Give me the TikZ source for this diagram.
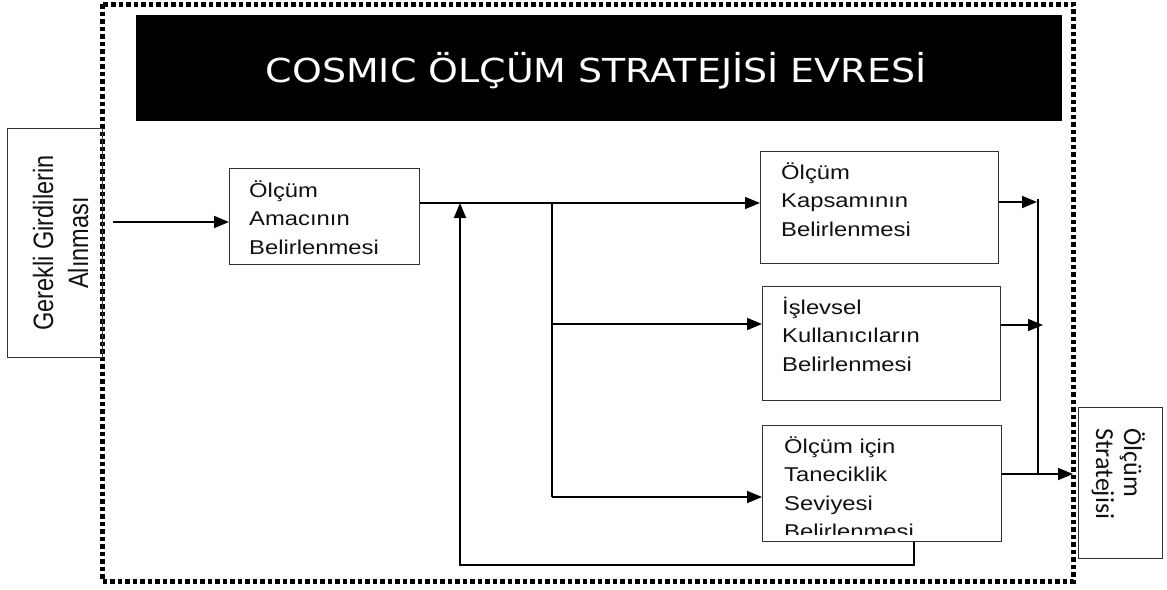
\documentclass[tikz,border=0pt]{standalone}
\usepackage{fontspec}
\setmainfont{Liberation Sans}
\newfontfamily\boxfont[FakeStretch=1.19]{Liberation Sans}
\newfontfamily\sidefont[FakeStretch=0.84]{Liberation Sans}
\newfontfamily\titlefont[FakeStretch=1.15]{DejaVu Sans}
\newfontfamily\outfont{Carlito}
\usetikzlibrary{arrows.meta,calc}
\definecolor{boxgray}{HTML}{333333}
\definecolor{inkblack}{HTML}{111111}

\begin{document}
\begin{tikzpicture}[x=1pt,y=-1pt,
  box/.style={draw=boxgray,line width=1.3pt,inner sep=0pt,anchor=north west},
  boxtext/.style={anchor=base west,inner sep=0pt,text=inkblack,
    font=\boxfont\fontsize{20}{28.5}\selectfont},
  conn/.style={line width=1.6pt},
  arr/.style={conn,-{Triangle[length=15pt,width=12pt]}},
  frame/.style={line width=5pt,dash pattern=on 4.5pt off 3pt},
]
\useasboundingbox (0,0) rectangle (1167,589);

% phase frame and title bar
\draw[frame] (102,4) rectangle (1073,581);
\node[fill=black,minimum width=926pt,minimum height=106pt,inner sep=0pt,
      anchor=north west] (bar) at (136,15) {};
\node[anchor=base,inner sep=0pt,text=white,
      font=\titlefont\fontsize{33}{40}\selectfont] (title) at (596,82)
  {COSMIC ÖLÇÜM STRATEJİSİ EVRESİ};

% input box (vertical text)
\node[box,minimum width=95pt,minimum height=229pt] (inp) at (7,128) {};
\node[anchor=base,inner sep=0pt,rotate=90,text=inkblack,
      font=\sidefont\fontsize{28}{35}\selectfont] (inptext) at (53,243)
  {\begin{tabular}[t]{@{}c@{}}Gerekli Girdilerin\\Alınması\end{tabular}};

% process boxes
\node[box,minimum width=190pt,minimum height=96pt] (b1) at (229,168) {};
\node[boxtext] (t1) at ($(b1.north west)+(20,29)$)
  {\begin{tabular}[t]{@{}l@{}}Ölçüm\\Amacının\\Belirlenmesi\end{tabular}};

\node[box,minimum width=238pt,minimum height=112pt] (b2) at (760,151) {};
\node[boxtext] (t2) at ($(b2.north west)+(21,28)$)
  {\begin{tabular}[t]{@{}l@{}}Ölçüm\\Kapsamının\\Belirlenmesi\end{tabular}};

\node[box,minimum width=238pt,minimum height=114pt] (b3) at (762,286) {};
\node[boxtext] (t3) at ($(b3.north west)+(20,28)$)
  {\begin{tabular}[t]{@{}l@{}}İşlevsel\\Kullanıcıların\\Belirlenmesi\end{tabular}};

\node[box,minimum width=239pt,minimum height=116pt] (b4) at (762,425) {};
\begin{scope}
  \clip (b4.north west) rectangle ($(b4.south east)+(0,-8)$);
  \node[boxtext] (t4) at ($(b4.north west)+(22,28)$)
    {\begin{tabular}[t]{@{}l@{}}Ölçüm için\\Taneciklik\\Seviyesi\\Belirlenmesi\end{tabular}};
\end{scope}

% output box (vertical text)
\node[box,minimum width=84pt,minimum height=151pt] (out) at (1078,407) {};
\node[anchor=base west,inner sep=0pt,rotate=-90,text=inkblack,
      font=\outfont\fontsize{26}{28}\selectfont] (outtext) at (1124,428)
  {\begin{tabular}[t]{@{}l@{}}Ölçüm\\Stratejisi\end{tabular}};

% junction points
\coordinate (in0) at (113,222);
\coordinate (j0) at (460,203);
\coordinate (j1) at (552,203);
\coordinate (j2) at (552,324);
\coordinate (j3) at (552,497);
\coordinate (f1) at (914,565);
\coordinate (f2) at (460,565);
\coordinate (k1) at (1037,202);
\coordinate (k2) at (1043,325);
\coordinate (c1) at (1038,199);
\coordinate (c2) at (1038,474);

% connectors
\draw[arr] (in0) -- (b1.west |- in0);
\draw[arr] (b1.east |- j1) -- (b2.west |- j1);
\draw[conn] (j1) -- (j3);
\draw[arr] (j2) -- (b3.west |- j2);
\draw[arr] (j3) -- (b4.west |- j3);
\draw[arr] (b4.south -| f1) -- (f1) -- (f2) -- (j0);
\draw[conn] (c1) -- (c2);
\draw[arr] (b2.east |- k1) -- (k1);
\draw[arr] (b3.east |- k2) -- (k2);
\draw[arr,shorten >=5pt] (b4.east |- c2) -- (out.west |- c2);
\end{tikzpicture}
\end{document}
